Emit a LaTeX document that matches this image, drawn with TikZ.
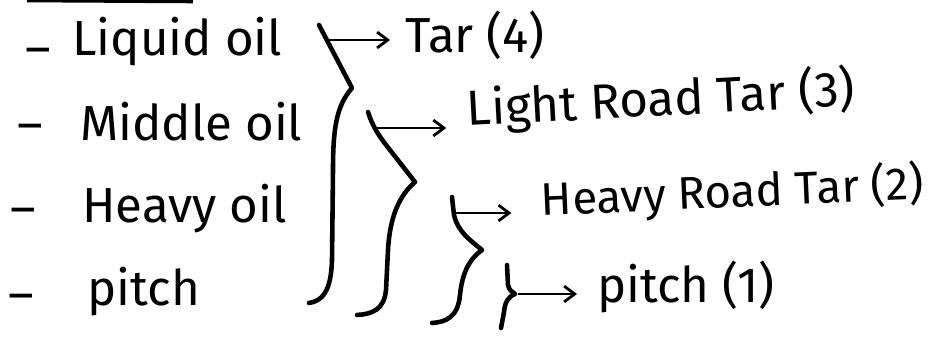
\documentclass[tikz,border=0pt]{standalone}
\usepackage{fontspec}
\setmainfont{Fira Sans}
\usetikzlibrary{arrows.meta,calc}

\begin{document}
\begin{tikzpicture}[x=0.2mm,y=-0.2mm,>={Straight Barb[length=6pt,width=9pt]},
 font=\fontsize{28}{32}\selectfont,
 brace/.style={line width=2.6pt,line cap=round,line join=round},
 arr/.style={->,line width=1.6pt},
 lbl/.style={anchor=base west,inner sep=0pt},
 rlbl/.style={anchor=base west,inner sep=0pt,outer xsep=#1},
 rlbl/.default=3mm]
\useasboundingbox (0,0) rectangle (938,338);
% heading underline, cut at the top edge
\draw[line width=2.6pt] (27,0) -- (193,1);
% fractions on the left
\node[lbl] (d1) at (25,65) {--};  \node[lbl] (liquid) at (72,55) {Liquid oil};
\node[lbl] (d2) at (17,141) {--}; \node[lbl] (middle) at (80,140) {Middle oil};
\node[lbl] (d3) at (10,225) {--}; \node[lbl] (heavy) at (82,222) {Heavy oil};
\node[lbl] (d4) at (8,311) {--};  \node[lbl] (pitch) at (87,305) {pitch};
% products
\node[rlbl] (tar4) at (390,52) {Tar (4)};
\node[rlbl=4.2mm,rotate=3] (lrt3) at (447,127) {Light Road Tar (3)};
\node[rlbl=6mm,rotate=2.5,font=\fontsize{26}{30}\selectfont] (hrt2) at (512,217) {Heavy Road Tar (2)};
\node[rlbl=4mm] (pitch1) at (577,302) {pitch (1)};
% braces
\draw[brace] (319,25) -- (352,88) .. controls (336,106) and (333,130) .. (333,170)
  -- (332,260) .. controls (331,292) and (322,301) .. (309,303);
\draw[brace] (368,112) .. controls (372,125) and (378,135) .. (390,150) -- (415,182)
  .. controls (400,195) and (390,215) .. (388,250) -- (386,290)
  .. controls (384,310) and (372,314) .. (357,315);
\draw[brace] (452,197) -- (454,215) .. controls (458,232) and (470,240) .. (482,250)
  .. controls (468,260) and (462,275) .. (460,295) .. controls (458,318) and (445,322) .. (432,323);
\draw[brace] (507,265) -- (508,285) .. controls (509,290) and (512,292) .. (515,294)
  .. controls (508,297) and (505,302) .. (504,312) -- (501,328);
\coordinate (b1) at (327,40);
\coordinate (b2) at (376,128);
\coordinate (b3) at (455,213);
\coordinate (b4) at (518,294);
\draw[arr] (b1) -- (b1 -| tar4.west);
\draw[arr] (b2) -- (b2 -| lrt3.west);
\draw[arr] (b3) -- (b3 -| hrt2.west);
\draw[arr] (b4) -- (b4 -| pitch1.west);
\end{tikzpicture}
\end{document}
